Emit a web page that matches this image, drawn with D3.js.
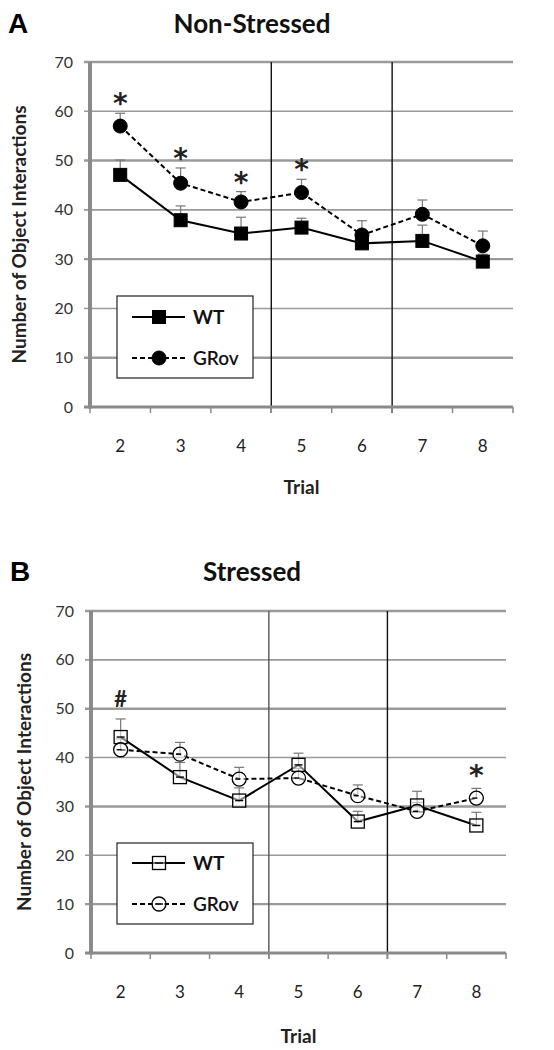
<!DOCTYPE html>
<html><head><meta charset="utf-8">
<script src="https://cdn.jsdelivr.net/npm/d3@7"></script>
<style>body{margin:0;background:#fff}svg{display:block}</style>
</head><body>
<script>
const trials = ["2","3","4","5","6","7","8"];
const yTicks = [0,10,20,30,40,50,60,70];
const seriesNames = ["WT","GRov"];
// Panel A (Non-Stressed)
const aWT = [47.1,37.9,35.2,36.4,33.2,33.7,29.5];
const aWTerr = [3.0,2.9,3.3,1.9,1.8,3.2,1.5];
const aGR = [57.0,45.4,41.6,43.5,34.9,39.1,32.7];
const aGRerr = [2.6,3.1,2.1,2.7,2.9,2.9,3.0];
const aMarks = [{t:"2",s:"*"},{t:"3",s:"*"},{t:"4",s:"*"},{t:"5",s:"*"}];
// Panel B (Stressed)
const bWT = [44.2,36.0,31.2,38.5,26.9,30.2,26.1];
const bWTerr = [3.7,3.0,2.6,2.4,2.1,2.9,2.7];
const bGR = [41.6,40.7,35.6,35.8,32.2,29.0,31.7];
const bGRerr = [2.2,2.4,2.4,2.0,2.2,1.8,2.0];
const bMarks = [{t:"2",s:"#"},{t:"8",s:"*"}];

const svg = d3.select("body").append("svg").attr("width",554).attr("height",1050);
const F = "Lato, 'Open Sans', sans-serif";

function panel(cfg){
  const g = svg.append("g");
  const x = d3.scaleBand().domain(trials).range([cfg.x0,cfg.x1]);
  const y = d3.scaleLinear().domain([0,70]).range([cfg.y0,cfg.y1]);
  // gridlines
  g.selectAll(".grid").data(yTicks.slice(1)).join("line")
    .attr("x1",cfg.x0-6).attr("x2",cfg.x1).attr("y1",d=>y(d)).attr("y2",d=>y(d))
    .attr("stroke","#9a9a9a").attr("stroke-width",d=>d%20===0?1.6:2.4);
  // vertical separators
  cfg.seps.forEach((s,i)=>{
    const xv = x(s);
    g.append("line").attr("x1",xv).attr("x2",xv).attr("y1",y(70)).attr("y2",y(0)+6)
      .attr("stroke",cfg.sepColors[i]).attr("stroke-width",1.4);
  });
  // bottom axis
  const ax = g.append("g").attr("transform",`translate(0,${y(0)})`);
  ax.append("line").attr("x1",cfg.x0-6).attr("x2",cfg.x1).attr("y1",0).attr("y2",0).attr("stroke","#8a8a8a").attr("stroke-width",3);
  const tickPos = trials.map(t=>x(t)).concat([cfg.x1]);
  ax.selectAll(".tk").data(tickPos).join("line").attr("x1",d=>d).attr("x2",d=>d).attr("y1",0).attr("y2",6)
    .attr("stroke","#8a8a8a").attr("stroke-width",1.5);
  ax.selectAll(".tl").data(trials).join("text")
    .attr("x",d=>x(d)+x.bandwidth()/2).attr("y",cfg.tickLabY-y(0)).attr("text-anchor","middle")
    .attr("font-family",F).attr("font-size",17).attr("fill","#222").text(d=>d);
  // left axis
  g.append("line").attr("x1",cfg.x0).attr("x2",cfg.x0).attr("y1",y(70)).attr("y2",y(0)+1.5).attr("stroke","#8a8a8a").attr("stroke-width",4);
  g.selectAll(".yl").data(yTicks).join("text")
    .attr("x",cfg.x0-17).attr("y",d=>y(d)+5.5).attr("text-anchor","end")
    .attr("font-family",F).attr("font-size",16).attr("fill","#333").text(d=>d);
  // titles
  g.append("text").attr("x",252).attr("y",cfg.titleY).attr("text-anchor","middle")
    .attr("font-family",F).attr("font-weight","bold").attr("font-size",26).attr("fill","#111").text(cfg.title);
  g.append("text").attr("x",cfg.letterX).attr("y",cfg.titleY).attr("font-family","'Liberation Sans', Arial, sans-serif")
    .attr("font-weight","bold").attr("font-size",28).attr("fill","#000").text(cfg.letter);
  g.append("text").attr("x",(cfg.x0+cfg.x1)/2).attr("y",cfg.trialY).attr("text-anchor","middle")
    .attr("font-family",F).attr("font-weight","bold").attr("font-size",19).attr("fill","#222").text("Trial");
  g.append("text").attr("transform",`translate(${cfg.yTitleX},${(y(0)+y(70))/2}) rotate(-90)`).attr("text-anchor","middle")
    .attr("font-family",F).attr("font-weight","bold").attr("font-size",19).attr("fill","#222").text("Number of Object Interactions");

  const cx = t=>x(t)+x.bandwidth()/2;
  const line = d3.line().x((d,i)=>cx(trials[i])).y(d=>y(d));
  const series = [
    {name:seriesNames[0],vals:cfg.wt,err:cfg.wtErr,dash:null},
    {name:seriesNames[1],vals:cfg.gr,err:cfg.grErr,dash:"5,3"}
  ];
  // error bars
  series.forEach(s=>{
    s.vals.forEach((v,i)=>{
      const xc = cx(trials[i]);
      g.append("line").attr("x1",xc).attr("x2",xc).attr("y1",y(v)).attr("y2",y(v+s.err[i])).attr("stroke","#777").attr("stroke-width",1.2);
      g.append("line").attr("x1",xc-5).attr("x2",xc+5).attr("y1",y(v+s.err[i])).attr("y2",y(v+s.err[i])).attr("stroke","#777").attr("stroke-width",1.2);
    });
  });
  function marker(sel,name,xc,yc){
    if(name==="WT"){
      sel.append("rect").attr("x",xc-6.5).attr("y",yc-6.5).attr("width",13).attr("height",13)
        .attr("fill",cfg.filled?"#000":"#fff").attr("stroke","#000").attr("stroke-width",cfg.filled?1:1.3)
        .attr("fill-opacity",cfg.filled?1:0.5);
    } else {
      sel.append("circle").attr("cx",xc).attr("cy",yc).attr("r",7)
        .attr("fill",cfg.filled?"#000":"#fff").attr("stroke","#000").attr("stroke-width",cfg.filled?1:1.3)
        .attr("fill-opacity",cfg.filled?1:0.5);
    }
  }
  series.forEach(s=>{
    g.append("path").attr("d",line(s.vals)).attr("fill","none").attr("stroke","#000").attr("stroke-width",2)
      .attr("stroke-dasharray",s.dash);
  });
  series.forEach(s=>{
    s.vals.forEach((v,i)=>marker(g,s.name,cx(trials[i]),y(v)));
    if(!cfg.filled){
      s.vals.forEach((v,i)=>{
        const xc=cx(trials[i]);
        g.append("line").attr("x1",xc-4).attr("x2",xc+4).attr("y1",y(v)).attr("y2",y(v)).attr("stroke","#000").attr("stroke-width",1.4).attr("stroke-dasharray",s.dash);
      });
    }
  });
  // significance marks
  cfg.marks.forEach(m=>{
    const i = trials.indexOf(m.t);
    const top = Math.max(cfg.wt[i]+cfg.wtErr[i], cfg.gr[i]+cfg.grErr[i]);
    const cyc = y(top) - cfg.markGap;
    if(m.s==="*"){
      g.append("text").attr("x",cx(m.t)).attr("y",cyc+16).attr("text-anchor","middle")
        .attr("font-family","'DejaVu Sans', sans-serif").attr("font-weight","bold").attr("font-size",28).attr("fill","#222").text(m.s);
    } else {
      g.append("text").attr("x",cx(m.t)).attr("y",cyc+7.5).attr("text-anchor","middle")
        .attr("font-family",F).attr("font-weight","bold").attr("font-size",22).attr("fill","#222").text(m.s);
    }
  });
  // legend
  const L = cfg.legend;
  g.append("rect").attr("x",L.x).attr("y",L.y).attr("width",L.w).attr("height",L.h).attr("fill","#fff").attr("stroke","#222").attr("stroke-width",1.2);
  series.forEach((s,k)=>{
    const ly = L.y + (k===0?L.r1:L.r2);
    g.append("line").attr("x1",L.x+15).attr("x2",L.x+68).attr("y1",ly).attr("y2",ly).attr("stroke","#000").attr("stroke-width",2).attr("stroke-dasharray",s.dash);
    marker(g,s.name,L.x+42,ly);
    if(!cfg.filled) g.append("line").attr("x1",L.x+38).attr("x2",L.x+46).attr("y1",ly).attr("y2",ly).attr("stroke","#000").attr("stroke-width",1.4);
    g.append("text").attr("x",L.x+76).attr("y",ly+7).attr("font-family",F).attr("font-weight",k===0?"bold":"600")
      .attr("font-size",19).attr("fill","#111").text(s.name);
  });
}

panel({x0:90,x1:513,y0:407,y1:62,seps:["5","7"],sepColors:["#111","#111"],tickLabY:452,trialY:494,titleY:33,letter:"A",letterX:8,yTitleX:26,markGap:16,
  title:"Non-Stressed",wt:aWT,wtErr:aWTerr,gr:aGR,grErr:aGRerr,marks:aMarks,filled:true,
  legend:{x:117,y:296,w:136,h:82,r1:21,r2:62}});
panel({x0:91,x1:506,y0:953,y1:611,seps:["5","7"],sepColors:["#555","#111"],tickLabY:998,trialY:1043,titleY:581,letter:"B",letterX:10,yTitleX:31,markGap:19,
  title:"Stressed",wt:bWT,wtErr:bWTerr,gr:bGR,grErr:bGRerr,marks:bMarks,filled:false,
  legend:{x:117,y:843,w:136,h:81,r1:20,r2:61}});
</script>
</body></html>
